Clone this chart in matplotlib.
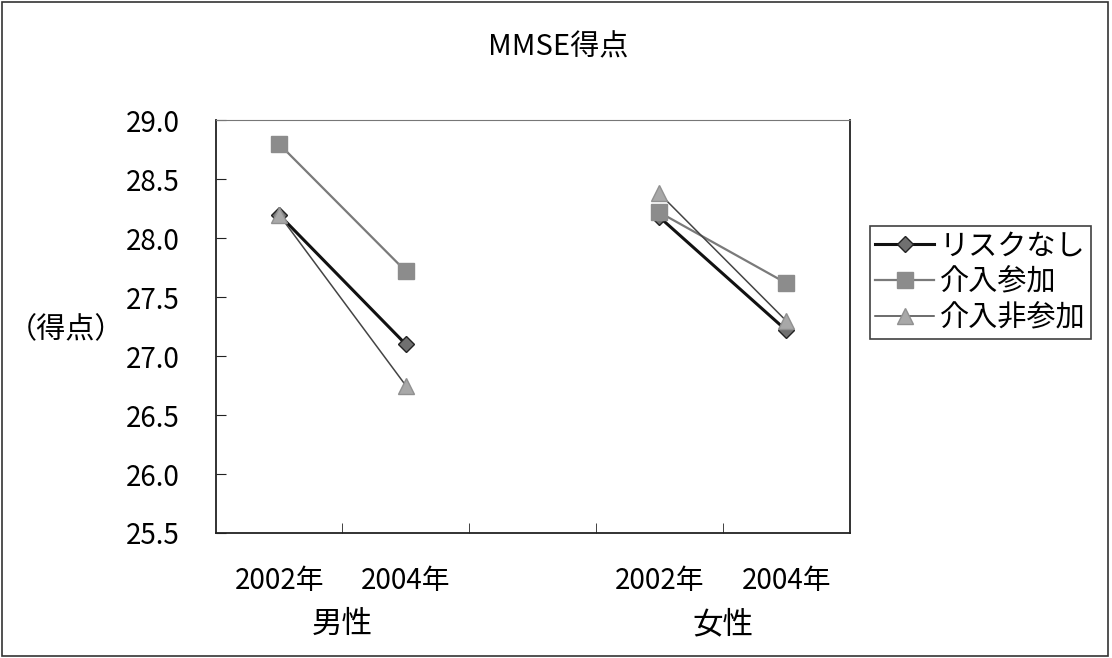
import matplotlib
matplotlib.use("Agg")
import matplotlib.pyplot as plt
from matplotlib.patches import Rectangle
import numpy as np

plt.rcParams['font.family'] = ['Noto Sans CJK JP', 'DejaVu Sans']

# data
years = ['2002年', '2004年', '', '2002年', '2004年']
groups = ['男性', '女性']
risk_none = [28.2, 27.1, np.nan, 28.18, 27.22]
intervention = [28.8, 27.72, np.nan, 28.22, 27.62]
no_intervention = [28.2, 26.75, np.nan, 28.38, 27.3]
yticks = [25.5, 26.0, 26.5, 27.0, 27.5, 28.0, 28.5, 29.0]

fig = plt.figure(figsize=(11.12, 6.58), dpi=100)
ax = fig.add_axes([0.194, 0.190, 0.570, 0.627])
x = np.arange(len(years))

ax.plot(x, risk_none, color='#111111', lw=2.2, marker='D', ms=8,
        mfc='#707070', mec='#222222', label='リスクなし', zorder=3)
ax.plot(x, intervention, color='#7a7a7a', lw=1.6, marker='s', ms=11,
        mfc='#8c8c8c', mec='#8c8c8c', label='介入参加', zorder=3)
ax.plot(x, no_intervention, color='#444444', lw=1.1, marker='^', ms=11,
        mfc='#a8a8a8', mec='#909090', label='介入非参加', zorder=3)

ax.set_xlim(-0.5, len(years) - 0.5)
ax.set_ylim(25.5, 29.0)
ax.set_yticks(yticks)
ax.set_yticklabels([f'{v:.1f}' for v in yticks], fontsize=20)
ax.set_xticks(x)
ax.set_xticklabels(years, fontsize=20)
ax.set_xticks(np.arange(len(years) - 1) + 0.5, minor=True)
ax.tick_params(axis='x', which='major', length=0, pad=24)
ax.tick_params(axis='x', which='minor', direction='in', length=7, color='#222222')
ax.tick_params(axis='y', direction='in', length=7, pad=26, color='#222222')

for s in ['left', 'bottom', 'right']:
    ax.spines[s].set_color('#222222')
    ax.spines[s].set_linewidth(1.3)
ax.spines['top'].set_color('#777777')

ax.text(0.5, -0.222, groups[0], transform=ax.get_xaxis_transform(),
        ha='center', va='center', fontsize=22)
ax.text(3.5, -0.222, groups[1], transform=ax.get_xaxis_transform(),
        ha='center', va='center', fontsize=22)

fig.text(0.502, 0.928, 'MMSE得点', ha='center', va='center', fontsize=21)
fig.text(0.059, 0.498, '（得点）', ha='center', va='center', fontsize=21)

leg = fig.legend(loc='upper left', bbox_to_anchor=(0.782, 0.657), fontsize=21,
                 frameon=True, fancybox=False, edgecolor='#111111',
                 handlelength=2.0, borderpad=0.2, labelspacing=0.2,
                 handletextpad=0.2, borderaxespad=0)
leg.get_frame().set_linewidth(1.2)

fig.add_artist(Rectangle((0.002, 0.003), 0.994, 0.994, transform=fig.transFigure,
                         fill=False, edgecolor='#333333', lw=1.2))

plt.savefig('out.png', dpi=100)
